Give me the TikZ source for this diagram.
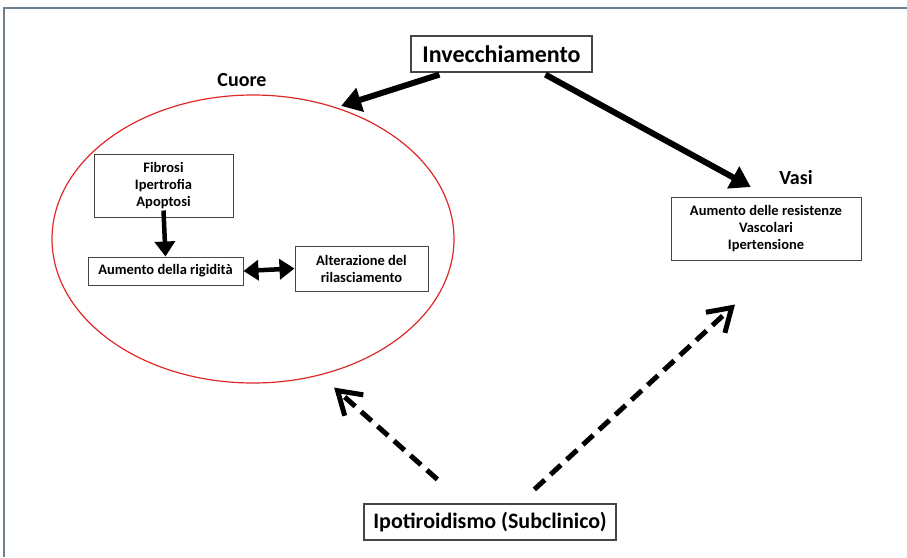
\documentclass[tikz,border=0pt]{standalone}
\usepackage{fontspec}
\setmainfont{Carlito}
\usepackage{xcolor}
\definecolor{frameblue}{RGB}{110,128,142}
\definecolor{boxgrey}{RGB}{70,70,70}
\definecolor{heartred}{RGB}{222,40,40}
\usetikzlibrary{arrows.meta,positioning,calc,shapes.geometric}
\tikzset{
  %% boxes
  bigbox/.style={draw=boxgrey, line width=1.2pt, fill=white, inner sep=0pt},
  smallbox/.style={draw=boxgrey, line width=1pt, fill=white, align=center,
                   font=\bfseries\fontsize{14.5}{17}\selectfont, inner sep=0pt},
  title/.style={font=\bfseries\fontsize{20}{22}\selectfont},
  %% connectors
  bigarrow/.style={line width=6pt, -{Triangle[length=20pt,width=24pt]}},
  smallarrow/.style={line width=4.5pt, -{Triangle[length=15pt,width=20pt]}},
  dasharrow/.style={line width=5pt, dash pattern=on 14pt off 8pt,
                    -{Straight Barb[length=22pt,width=28pt]}},
}
\begin{document}
\begin{tikzpicture}[x=1pt,y=-1pt]
\useasboundingbox (0,0) rectangle (907,557);
% frame
\draw[frameblue, line width=2pt] (4,557) -- (4,8) -- (907,8);

% top
\node[bigbox, minimum width=181pt, minimum height=36pt,
      font=\bfseries\fontsize{24}{26}\selectfont] (inv) at (501.5,54) {Invecchiamento};
\node[title] (cuorelbl) at (242,80) {Cuore};
\node[draw=heartred, line width=1.2pt, ellipse, minimum width=402pt, minimum height=288pt] (cuore) at (253,239) {};

% heart
\node[smallbox, minimum width=139pt, minimum height=63pt] (fib) at (163.5,185.5) {Fibrosi\\Ipertrofia\\Apoptosi};
\node[smallbox, minimum width=155pt, minimum height=28pt] (rig) at (165.5,271) {Aumento della rigidità};
\node[smallbox, minimum width=133pt, minimum height=45pt] (alt) at (361.5,268.5) {Alterazione del\\rilasciamento};

% vessels
\node[title] (vasilbl) at (796,178) {Vasi};
\node[smallbox, minimum width=190pt, minimum height=63pt] (vasi) at (766,228.5) {Aumento delle resistenze\\Vascolari\\Ipertensione};

% bottom
\node[bigbox, minimum width=252pt, minimum height=36pt,
      font=\bfseries\fontsize{22}{24}\selectfont] (ipo) at (490,522) {Ipotiroidismo (Subclinico)};

% connectors
\draw[bigarrow] ($(inv.south west)+(29,2)$) -- ($(cuore.57)+(3,-2)$);
\draw[bigarrow] ($(inv.south west)+(135,2)$) -- ($(vasilbl.west)+(-25,9)$);
\draw[smallarrow] ($(fib.south)+(0,-7)$) -- (rig.north);
\draw[smallarrow, {Triangle[length=15pt,width=20pt]}-{Triangle[length=15pt,width=20pt]}] (rig.east) -- (alt.west);
\draw[dasharrow] ($(ipo.north west)+(74,-24)$) -- ($(cuore.300)+(4,15)$);
\draw[dasharrow] ($(ipo.north west)+(171,-14)$) -- ($(vasi.south)+(-31,44)$);
\end{tikzpicture}
\end{document}
